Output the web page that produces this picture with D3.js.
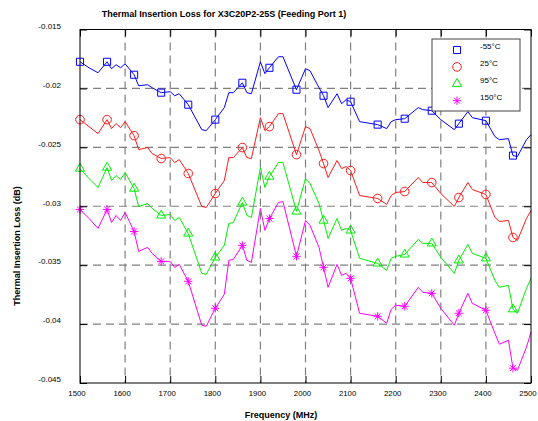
<!DOCTYPE html>
<html lang="en">
  <head>
    <meta charset="utf-8" />
    <title>Thermal Insertion Loss</title>
    <script src="https://cdn.jsdelivr.net/npm/d3@7"></script>
    <style>
      body {
        margin: 0;
        background: #fff;
      }
      svg text {
        font-family: "Liberation Sans", Arial, sans-serif;
        fill: #000;
      }
      .grid line {
        stroke: #808080;
        stroke-width: 1.2;
        stroke-dasharray: 8 5;
      }
      .series {
        fill: none;
        stroke-width: 1;
      }
    </style>
  </head>
  <body>
    <svg id="chart" width="538" height="421"></svg>
    <script>
      // frequency points (MHz) shared by all four curves
      const freq = [
        1500, 1520, 1540, 1560, 1570, 1580, 1590, 1600, 1620, 1630, 1650, 1660,
        1680, 1700, 1710, 1720, 1740, 1770, 1780, 1800, 1820, 1830, 1840, 1860,
        1870, 1880, 1900, 1910, 1920, 1940, 1950, 1980, 2000, 2010, 2030, 2040,
        2050, 2070, 2080, 2090, 2100, 2120, 2160, 2180, 2190, 2200, 2220, 2250,
        2260, 2280, 2300, 2330, 2340, 2360, 2370, 2400, 2420, 2430, 2450, 2460,
        2470, 2490, 2500,
      ];
      // insertion loss (dB)
      const lossM55 = [
        -0.01774, -0.01825, -0.01867, -0.01774, -0.01833, -0.01799, -0.01825,
        -0.01791, -0.01884, -0.01977, -0.01969, -0.01994, -0.02036, -0.02028,
        -0.02062, -0.02045, -0.02138, -0.0235, -0.02358, -0.02265, -0.02163,
        -0.02036, -0.02036, -0.01952, -0.02036, -0.02045, -0.01774, -0.01875,
        -0.01825, -0.01731, -0.01731, -0.02011, -0.01833, -0.0185, -0.01994,
        -0.02062, -0.02163, -0.02045, -0.0213, -0.02096, -0.02113, -0.02282,
        -0.02307, -0.02341, -0.02282, -0.02265, -0.02257, -0.02163, -0.0218,
        -0.02189, -0.02265, -0.0235, -0.02299, -0.02197, -0.02248, -0.02274,
        -0.02409, -0.02435, -0.02426, -0.0257, -0.02578, -0.02435, -0.02392,
      ];
      const loss25 = [
        -0.02265, -0.02324, -0.02384, -0.02265, -0.02341, -0.02299, -0.02333,
        -0.02282, -0.02401, -0.02519, -0.02502, -0.02553, -0.02595, -0.02587,
        -0.02629, -0.02604, -0.02722, -0.03002, -0.0301, -0.02892, -0.02782,
        -0.02587, -0.02587, -0.02502, -0.02587, -0.02595, -0.02248, -0.02358,
        -0.02324, -0.02214, -0.02214, -0.02562, -0.02324, -0.02341, -0.02528,
        -0.02638, -0.02756, -0.02612, -0.0268, -0.02663, -0.02697, -0.02909,
        -0.02934, -0.02985, -0.02909, -0.02883, -0.02875, -0.02756, -0.02799,
        -0.02799, -0.02892, -0.03002, -0.02926, -0.02799, -0.02858, -0.029,
        -0.03095, -0.03129, -0.03121, -0.03265, -0.0329, -0.03104, -0.03036,
      ];
      const loss95 = [
        -0.0268, -0.02765, -0.02841, -0.02672, -0.02782, -0.02739, -0.02773,
        -0.02714, -0.0285, -0.03002, -0.02977, -0.03019, -0.03078, -0.0307,
        -0.03121, -0.03095, -0.03231, -0.03569, -0.03578, -0.03434, -0.03332,
        -0.03146, -0.03138, -0.02968, -0.03078, -0.03095, -0.02672, -0.02841,
        -0.02748, -0.02629, -0.02629, -0.03044, -0.02765, -0.02807, -0.02977,
        -0.03121, -0.03273, -0.03104, -0.03205, -0.03188, -0.03205, -0.03442,
        -0.03485, -0.03544, -0.03442, -0.03425, -0.03409, -0.03282, -0.03315,
        -0.03315, -0.03434, -0.03569, -0.03459, -0.03324, -0.034, -0.03442,
        -0.03629, -0.03688, -0.03671, -0.03874, -0.03908, -0.03697, -0.03612,
      ];
      const loss150 = [
        -0.03027, -0.03104, -0.03188, -0.03027, -0.03138, -0.03078, -0.03121,
        -0.03053, -0.03214, -0.03383, -0.03349, -0.034, -0.03468, -0.03468,
        -0.03519, -0.03493, -0.03637, -0.0401, -0.04018, -0.03866, -0.03747,
        -0.03459, -0.03451, -0.03332, -0.03459, -0.03476, -0.03019, -0.03205,
        -0.03104, -0.02968, -0.0296, -0.03425, -0.03121, -0.03163, -0.03349,
        -0.03519, -0.03688, -0.03493, -0.03586, -0.03569, -0.03612, -0.03908,
        -0.03934, -0.03993, -0.03874, -0.0384, -0.03849, -0.03688, -0.0373,
        -0.03739, -0.03866, -0.0401, -0.03908, -0.03739, -0.03824, -0.03883,
        -0.04078, -0.04171, -0.04137, -0.04374, -0.04391, -0.04196, -0.04069,
      ];
      const seriesNames = ["-55°C", "25°C", "95°C", "150°C"];
      const seriesColors = ["#0000ff", "#ff1a1a", "#00ee00", "#ff00ff"];
      const xTicks = [1500, 1600, 1700, 1800, 1900, 2000, 2100, 2200, 2300, 2400, 2500];
      const yTicks = [-0.015, -0.02, -0.025, -0.03, -0.035, -0.04, -0.045];
      const markerStep = 60; // a marker every 60 MHz

      const svg = d3.select("#chart");
      const plotL = 80,
        plotR = 531,
        plotT = 29.5,
        plotB = 383;

      const x = d3.scaleLinear().domain([1500, 2500]).range([plotL, plotR]);
      const y = d3.scaleLinear().domain([-0.045, -0.015]).range([plotB, plotT]);

      // marker shapes
      const square = {
        draw(ctx, size) {
          const r = Math.sqrt(size) / 2;
          ctx.rect(-r, -r, 2 * r, 2 * r);
        },
      };
      const asterisk = {
        draw(ctx, size) {
          const r = Math.sqrt(size) / 2;
          for (let a = 0; a < 4; a++) {
            const t = (a * Math.PI) / 4;
            ctx.moveTo(r * Math.cos(t), r * Math.sin(t));
            ctx.lineTo(-r * Math.cos(t), -r * Math.sin(t));
          }
        },
      };
      const shapes = [
        d3.symbol().type(square).size(50),
        d3.symbol().type(d3.symbolCircle).size(58),
        d3.symbol().type(d3.symbolTriangle).size(36),
        d3.symbol().type(asterisk).size(70),
      ];

      // grid
      const grid = svg.append("g").attr("class", "grid");
      grid
        .selectAll("line.v")
        .data(xTicks.slice(1, -1))
        .join("line")
        .attr("class", "v")
        .attr("x1", (d) => x(d))
        .attr("x2", (d) => x(d))
        .attr("y1", plotT)
        .attr("y2", plotB);
      grid
        .selectAll("line.h")
        .data(yTicks.slice(1, -1))
        .join("line")
        .attr("class", "h")
        .attr("y1", (d) => y(d))
        .attr("y2", (d) => y(d))
        .attr("x1", plotL)
        .attr("x2", plotR);

      // curves
      const allSeries = [lossM55, loss25, loss95, loss150];
      const line = d3
        .line()
        .x((d) => x(d[0]))
        .y((d) => y(d[1]));

      allSeries.forEach((vals, i) => {
        const pts = freq.map((f, j) => [f, vals[j]]);
        svg
          .append("path")
          .attr("class", "series")
          .attr("stroke", seriesColors[i])
          .attr("d", line(pts));
        svg
          .append("g")
          .selectAll("path")
          .data(pts.filter((p) => (p[0] - 1500) % markerStep === 0))
          .join("path")
          .attr("transform", (p) => `translate(${x(p[0])},${y(p[1])})`)
          .attr("d", shapes[i]())
          .attr("fill", "none")
          .attr("stroke", seriesColors[i])
          .attr("stroke-width", 1);
      });

      // frame and axes
      svg
        .append("rect")
        .attr("x", plotL)
        .attr("y", plotT)
        .attr("width", plotR - plotL)
        .attr("height", plotB - plotT)
        .attr("fill", "none")
        .attr("stroke", "#000")
        .attr("stroke-width", 1);

      const styleAxis = (g) => {
        g.select(".domain").remove();
        g.attr("font-family", null).attr("font-size", null);
        g.selectAll(".tick line").attr("stroke", "#000");
      };

      svg
        .append("g")
        .attr("transform", `translate(0,${plotB})`)
        .call(
          d3
            .axisBottom(x)
            .tickValues(xTicks)
            .tickSize(-7)
            .tickSizeOuter(0)
            .tickPadding(7)
            .tickFormat(d3.format("d"))
        )
        .call(styleAxis)
        .call((g) =>
          g.selectAll(".tick text").attr("x", -3.5).style("font-size", "7.8px")
        );
      svg
        .append("g")
        .attr("transform", `translate(0,${plotT})`)
        .call(d3.axisTop(x).tickValues(xTicks).tickSize(-7).tickSizeOuter(0).tickFormat(""))
        .call(styleAxis);
      svg
        .append("g")
        .attr("transform", `translate(${plotL},0)`)
        .call(
          d3
            .axisLeft(y)
            .tickValues(yTicks)
            .tickSize(-7)
            .tickSizeOuter(0)
            .tickPadding(19)
            .tickFormat((d) => String(+d.toFixed(3)))
        )
        .call(styleAxis)
        .call((g) =>
          g.selectAll(".tick text").attr("dy", "-0.15em").style("font-size", "8px")
        );
      svg
        .append("g")
        .attr("transform", `translate(${plotR},0)`)
        .call(d3.axisRight(y).tickValues(yTicks).tickSize(-7).tickSizeOuter(0).tickFormat(""))
        .call(styleAxis);

      // titles
      svg
        .append("text")
        .attr("x", 224)
        .attr("y", 17)
        .attr("text-anchor", "middle")
        .style("font-size", "9px")
        .style("font-weight", "bold")
        .text("Thermal Insertion Loss for X3C20P2-25S (Feeding Port 1)");
      svg
        .append("text")
        .attr("x", 281)
        .attr("y", 418)
        .attr("text-anchor", "middle")
        .style("font-size", "9px")
        .style("font-weight", "bold")
        .text("Frequency (MHz)");
      svg
        .append("text")
        .attr("transform", "translate(20,246) rotate(-90)")
        .attr("text-anchor", "middle")
        .style("font-size", "9px")
        .style("font-weight", "bold")
        .text("Thermal Insertion Loss (dB)");

      // legend
      const legend = svg.append("g");
      legend
        .append("rect")
        .attr("x", 432)
        .attr("y", 39)
        .attr("width", 88)
        .attr("height", 72)
        .attr("fill", "#fff")
        .attr("stroke", "#444")
        .attr("stroke-width", 1);
      seriesNames.forEach((name, i) => {
        const ly = 50 + i * 16.9;
        legend
          .append("path")
          .attr("transform", `translate(457,${ly})`)
          .attr("d", shapes[i]())
          .attr("fill", "none")
          .attr("stroke", seriesColors[i]);
        legend
          .append("text")
          .attr("x", 480)
          .attr("y", ly - 1)
          .style("font-size", "8px")
          .text(name);
      });
    </script>
  </body>
</html>
